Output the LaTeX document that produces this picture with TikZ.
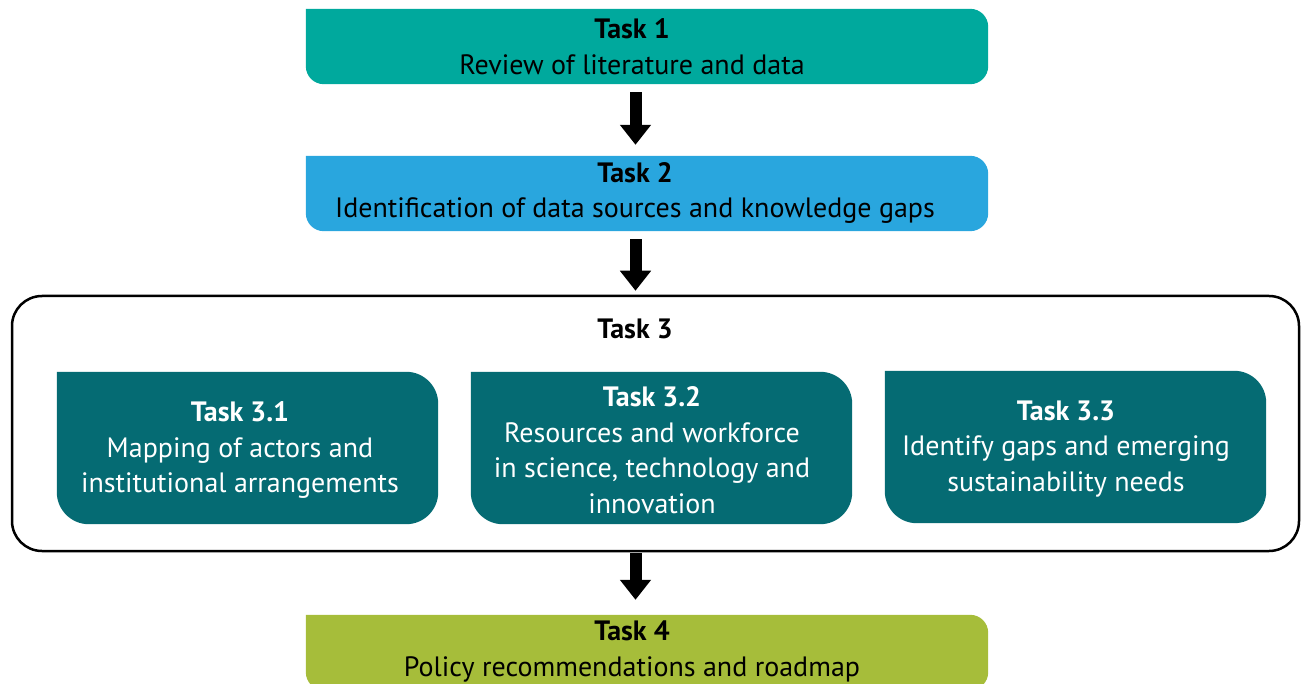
\documentclass[tikz,border=0pt]{standalone}
\usepackage{fontspec}
\setmainfont{PT Sans}
\usetikzlibrary{arrows.meta}
\definecolor{tealA}{HTML}{00A99D}
\definecolor{blueB}{HTML}{29A6DE}
\definecolor{tealC}{HTML}{056B73}
\definecolor{greenD}{HTML}{A6BD3A}
\newcommand\taskfill[3]{\fill[#2,rounded corners=#3] (#1.north west) -- (#1.north east) -- (#1.south east) -- (#1.south west) -- (#1.north west);}
\begin{document}
\begin{tikzpicture}[x=1pt,y=-1pt,
  wide/.style={draw=none,inner sep=0pt,minimum width=682pt,minimum height=75pt},
  sub/.style={draw=none,inner sep=0pt,minimum width=381pt,minimum height=152pt},
  label/.style={inner sep=0pt,align=center,font=\fontsize{28}{35.5}\selectfont},
  bigarrow/.style={line width=12pt,-{Triangle[width=30pt,length=20pt]}}]
\useasboundingbox (0,0) rectangle (1301,684);
\clip (0,0) rectangle (1301,684);
\coordinate (ax) at (635.5,0);
% Task 1
\node[wide] (t1) at (647,46.5) {};
\taskfill{t1}{tealA}{18pt}
\node[label] (t1txt) at (632,46.5) {\textbf{Task 1}\\Review of literature and data};
% Task 2
\node[wide] (t2) at (647,193.5) {};
\taskfill{t2}{blueB}{18pt}
\node[label] (t2txt) at (635,193) {\textbf{Task 2}\\Identification of data sources and knowledge gaps};
% Task 3 outer
\node[draw=black,line width=2.5pt,rounded corners=30pt,inner sep=0pt,minimum width=1287pt,minimum height=255pt] (t3) at (655.5,423.5) {};
\node[label] (t3txt) at (635,329) {\textbf{Task 3}};
% Task 3.1
\node[sub] (t31) at (247.5,448) {};
\taskfill{t31}{tealC}{32pt}
\node[label,text=white] (t31txt) at (240,450) {\textbf{Task 3.1}\\Mapping of actors and\\institutional arrangements};
% Task 3.2
\node[sub] (t32) at (661.5,448) {};
\taskfill{t32}{tealC}{32pt}
\node[label,text=white] (t32txt) at (652,450) {\textbf{Task 3.2}\\Resources and workforce\\in science, technology and\\innovation};
% Task 3.3
\node[sub] (t33) at (1075.5,447) {};
\taskfill{t33}{tealC}{32pt}
\node[label,text=white] (t33txt) at (1066,449) {\textbf{Task 3.3}\\Identify gaps and emerging\\sustainability needs};
% Task 4
\node[wide] (t4) at (647,652.5) {};
\taskfill{t4}{greenD}{18pt}
\node[label] (t4txt) at (632,651.5) {\textbf{Task 4}\\Policy recommendations and roadmap};
% arrows
\draw[bigarrow,shorten <=8pt,shorten >=11pt] (ax |- t1.south) -- (ax |- t2.north);
\draw[bigarrow,shorten <=8pt,shorten >=4pt] (ax |- t2.south) -- (ax |- t3.north);
\draw[bigarrow,shorten <=1pt,shorten >=15pt] (ax |- t3.south) -- (ax |- t4.north);
\end{tikzpicture}
\end{document}
